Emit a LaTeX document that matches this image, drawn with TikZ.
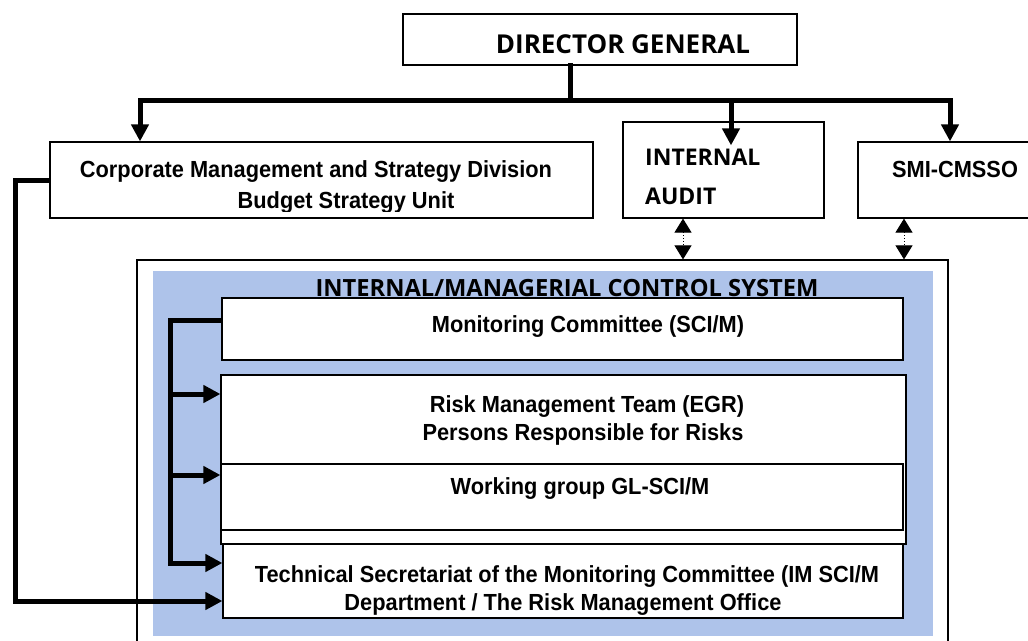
\documentclass[tikz,border=0pt]{standalone}
\usepackage{fontspec}
\setmainfont{Liberation Sans}[FakeStretch=0.935]
\newfontfamily\osans{Open Sans}
\usetikzlibrary{arrows.meta,calc}
\definecolor{panel}{RGB}{174,195,234}
\begin{document}
\begin{tikzpicture}[x=1pt,y=-1pt,
  box/.style={draw, line width=1.2pt, fill=white, inner sep=0pt},
  lbl/.style={anchor=base, inner sep=0pt, font=\bfseries\fontsize{23.3}{27}\selectfont},
  olbl/.style={anchor=base, inner sep=0pt, font=\osans\bfseries\fontsize{23}{28}\selectfont},
  bus/.style={line width=5pt, line cap=rect},
  arr/.style={line width=5pt, line join=miter, -{Triangle[length=17pt,width=17pt]}},
  darr/.style={line width=1pt, dotted, {Triangle[length=14pt,width=17pt]}-{Triangle[length=14pt,width=17pt]}}]
\useasboundingbox (0,0) rectangle (1028,640);
\fill[white] (0,0) rectangle (1028,640);

% top boxes
\node[box, minimum width=394pt, minimum height=51pt] (dg) at (600,39.5) {};
\node[box, minimum width=543pt, minimum height=76pt] (corp) at (321.5,180) {};
\node[box, minimum width=201pt, minimum height=96pt] (ia) at (723.5,170) {};
\node[box, minimum width=182pt, minimum height=76pt] (smi) at (949,180) {};

% control system frame
\node[draw, line width=1.2pt, inner sep=0pt, minimum width=811pt, minimum height=400pt] (frame) at (542.5,460) {};
\fill[panel] (153,271) rectangle (933,636);

\node[box, minimum width=681pt, minimum height=62pt] (mon) at (562.5,329) {};
\node[box, minimum width=685pt, minimum height=169pt] (risk) at (563.5,459.5) {};
\node[box, minimum width=682pt, minimum height=66pt] (wg) at (562,497) {};
\node[box, minimum width=680pt, minimum height=74pt] (tech) at (563,581) {};

% texts
\node[olbl, font=\osans\bfseries\fontsize{26}{30}\selectfont] (dgt) at (623,53) {DIRECTOR GENERAL};
\node[lbl] (c1) at (316,177) {Corporate Management and Strategy Division};
\begin{scope}
\clip (50,142) rectangle (593,211.5);
\node[lbl] (c2) at (346,208) {Budget Strategy Unit};
\end{scope}
\node[olbl, anchor=base west] (ia1) at (645,165) {INTERNAL};
\node[olbl, anchor=base west] (ia2) at (645,204) {AUDIT};
\node[lbl] (smit) at (955,177) {SMI-CMSSO};
\node[olbl, font=\osans\bfseries\fontsize{23.7}{28}\selectfont] (title) at (567,296) {INTERNAL/MANAGERIAL CONTROL SYSTEM};
\node[lbl] (mont) at (588,332) {Monitoring Committee (SCI/M)};
\node[lbl] (r1) at (587,412) {Risk Management Team (EGR)};
\node[lbl] (r2) at (583,440) {Persons Responsible for Risks};
\node[lbl] (wgt) at (580,494) {Working group GL-SCI/M};
\node[lbl] (t1) at (567,582) {Technical Secretariat of the Monitoring Committee (IM SCI/M};
\begin{scope}
\clip (223,544) rectangle (903,614);
\node[lbl] (t2) at (563,610) {Department / The Risk Management Office};
\end{scope}

% hierarchy connectors
\coordinate (busL) at (140,100);
\coordinate (busR) at (950,100);
\coordinate (busM) at (570,100);
\coordinate (busA) at (731,100);
\draw[bus] (busL) -- (busR);
\draw[bus] (dg.south -| busM) -- (busM);
\draw[arr] (busL) -- (busL |- corp.north);
\draw[arr] (busA) -- ($(busA |- ia.north)+(0,24)$);
\draw[arr] (busR) -- (busR |- smi.north);

% dotted double arrows
\coordinate (da) at (683,240);
\coordinate (db) at (904,240);
\draw[darr] (ia.south -| da) -- (frame.north -| da);
\draw[darr] (smi.south -| db) -- (frame.north -| db);

% bracket inside control system
\coordinate (brT) at (170,320);
\coordinate (brB) at (170,563);
\draw[arr] (mon.west |- brT) -- (brT) -- (brB) -- (tech.west |- brB);
\coordinate (s1) at (172,394);
\coordinate (s2) at (172,475);
\draw[arr] (s1) -- (risk.west |- s1);
\draw[arr] (s2) -- (wg.west |- s2);

% outer link from corporate division
\coordinate (oT) at (15,180);
\coordinate (oB) at (15,601);
\draw[arr] (corp.west) -- (oT) -- (oB) -- (tech.west |- oB);
\end{tikzpicture}
\end{document}
